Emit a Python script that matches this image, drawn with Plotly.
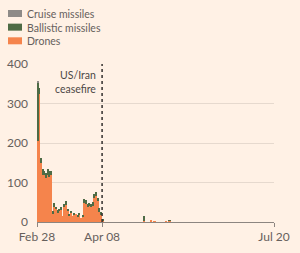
import pandas as pd
import plotly.graph_objects as go

# Daily attacks, Feb 28 - Apr 08 2026 (40 days), then a few later days
early_dates = pd.date_range("2026-02-28", "2026-04-08", freq="D")
late_dates = pd.to_datetime(["2026-05-03", "2026-05-07", "2026-05-09", "2026-05-16", "2026-05-18"])

drones_early = [205, 325, 150, 120, 118, 112, 118, 113, 118, 20,
                38, 32, 22, 28, 30, 15, 38, 44, 28, 17,
                22, 15, 17, 20, 15, 17, 10, 15, 47, 45,
                40, 40, 40, 40, 60, 65, 55, 25, 20, 3]
ballistic_early = [148, 15, 12, 13, 12, 11, 15, 15, 10, 8,
                   9, 6, 8, 5, 8, 0, 7, 10, 5, 3,
                   6, 0, 6, 0, 3, 6, 0, 3, 10, 10,
                   5, 8, 5, 10, 10, 10, 5, 10, 5, 5]
cruise_early = [2, 0, 0, 0, 0, 0, 0, 0, 0, 0,
                0, 0, 0, 0, 0, 0, 0, 0, 0, 0,
                0, 0, 0, 0, 0, 0, 0, 0, 0, 0,
                0, 0, 0, 0, 0, 0, 0, 0, 0, 0]
drones_late = [2, 3, 2, 2, 3]
ballistic_late = [14, 0, 0, 0, 1]
cruise_late = [0, 0, 0, 0, 0]

dates = list(early_dates) + list(late_dates)
drones = drones_early + drones_late
ballistic = ballistic_early + ballistic_late
cruise = cruise_early + cruise_late

series_names = ["Cruise missiles", "Ballistic missiles", "Drones"]
series_colors = ["#8E8B88", "#4E6B45", "#F5844C"]

y_ticks = [0, 100, 200, 300, 400]
x_tick_vals = ["2026-02-28", "2026-04-08", "2026-07-20"]
x_tick_text = ["Feb 28", "Apr 08", "Jul 20"]
ceasefire_date = "2026-04-08"

BG = "#FFF1E5"
TXT = "#66605C"
FONT = "Lato"
W, H = 300, 253
ML, MR, MT, MB = 37, 26, 64, 31
PW, PH = W - ML - MR, H - MT - MB
DAY_MS = 24 * 3600 * 1000
xc = [d + pd.Timedelta(hours=12) for d in dates]

fig = go.Figure()
for name, vals, col in [("Drones", drones, series_colors[2]),
                        ("Ballistic missiles", ballistic, series_colors[1]),
                        ("Cruise missiles", cruise, series_colors[0])]:
    fig.add_trace(go.Bar(x=xc, y=vals, name=name, width=DAY_MS, showlegend=False,
                         marker=dict(color=col, line=dict(width=0))))

fig.add_shape(type="line", x0=ceasefire_date, x1=ceasefire_date, xref="x", yref="paper", y0=0, y1=1,
              line=dict(color="#33302E", width=1.5, dash="dot"))
fig.add_annotation(x=ceasefire_date, y=1, xref="x", yref="paper", xanchor="right", yanchor="top",
                   xshift=-5, yshift=-4, align="right", showarrow=False, borderpad=0,
                   text="US/Iran<br>ceasefire", font=dict(family=FONT, size=10.5, color="#4D4845"))

# manual legend (compact rows)
def px_x(p):
    return (p - ML) / PW

def px_y(p):
    return (H - MB - p) / PH

LEG_FS = 10.5
row_h = LEG_FS * 1.3
top_c = 13.5
for i, col in enumerate(series_colors):
    cy = top_c + i * row_h
    fig.add_shape(type="rect", xref="paper", yref="paper", x0=px_x(8), x1=px_x(22),
                  y0=px_y(cy + 3.5), y1=px_y(cy - 3.5), fillcolor=col, line=dict(width=0))
fig.add_annotation(xref="paper", yref="paper", x=px_x(25), y=px_y(top_c - row_h / 2 - 1),
                   xanchor="left", yanchor="top", align="left", showarrow=False,
                   borderpad=1, text="<br>".join(series_names),
                   font=dict(family=FONT, size=LEG_FS, color=TXT))

fig.update_layout(
    width=W, height=H,
    margin=dict(l=ML, r=MR, t=MT, b=MB, autoexpand=False),
    paper_bgcolor=BG, plot_bgcolor=BG,
    barmode="stack", bargap=0,
    font=dict(family=FONT, size=12, color=TXT),
    showlegend=False,
    xaxis=dict(type="date", range=["2026-02-28", "2026-07-20"], tickmode="array",
               tickvals=x_tick_vals, ticktext=x_tick_text, ticks="outside", ticklen=4,
               tickcolor="#8C8580", showgrid=False, showline=True, linecolor="#8C8580",
               linewidth=1, zeroline=False, tickangle=0,
               tickfont=dict(family=FONT, size=12, color=TXT)),
    yaxis=dict(range=[0, 400], tickvals=y_ticks, showgrid=True, gridcolor="#E6D9CE",
               gridwidth=1, zeroline=False, ticks="", ticklabelstandoff=8,
               tickfont=dict(family=FONT, size=12, color=TXT)),
)

fig.write_html("out.html")
